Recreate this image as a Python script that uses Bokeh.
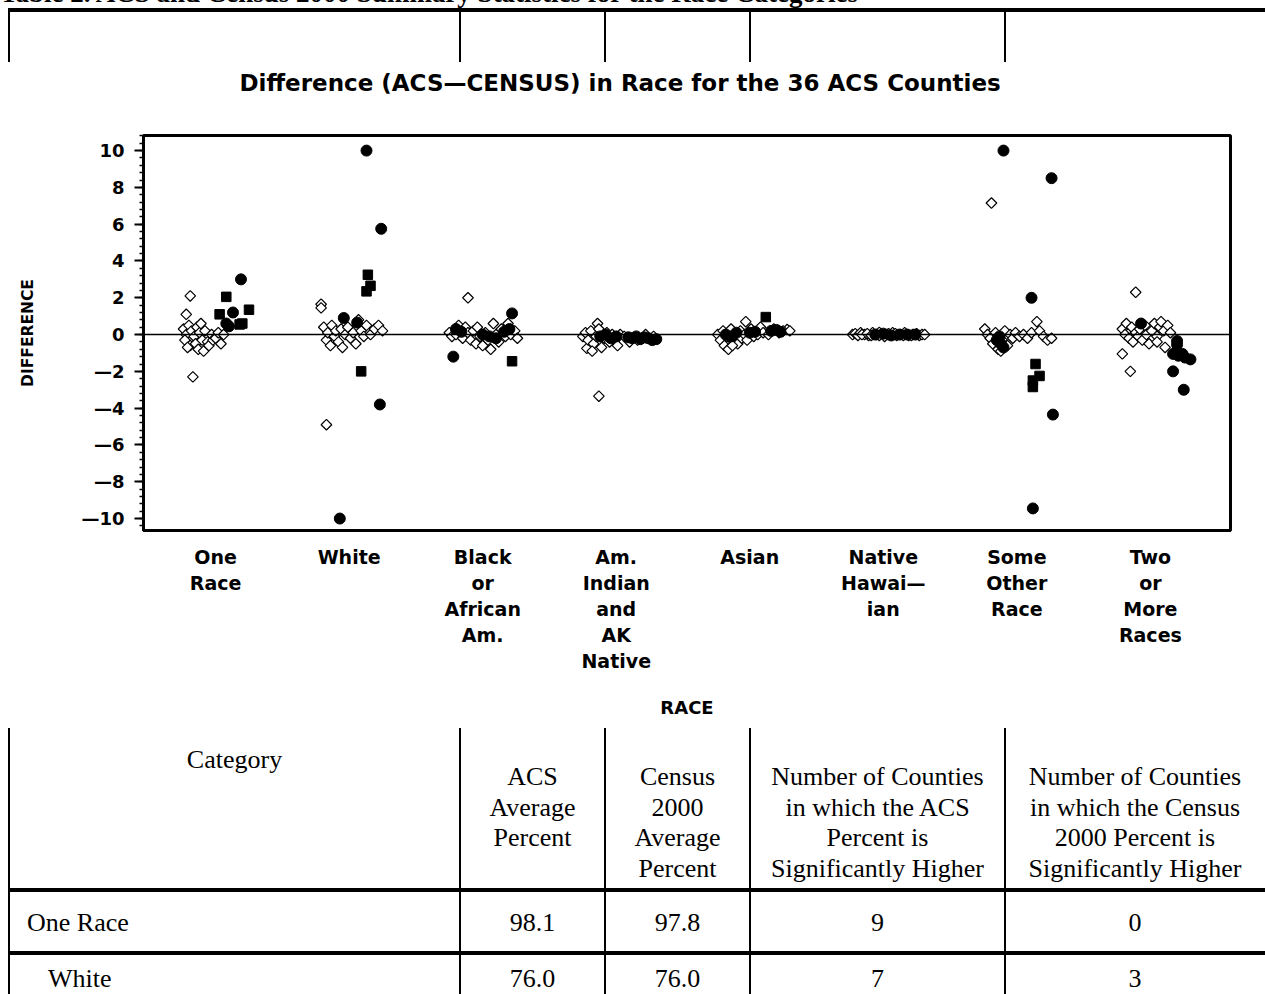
import math
from bokeh.plotting import figure
from bokeh.models import Range1d, Span, FixedTicker, SingleIntervalTicker, Div, Title
from bokeh.layouts import column
from bokeh.embed import file_html
from bokeh.resources import INLINE

# ---------------- data ----------------
categories = ["One\nRace", "White", "Black\nor\nAfrican\nAm.", "Am.\nIndian\nand\nAK\nNative",
              "Asian", "Native\nHawai\u2014\nian", "Some\nOther\nRace", "Two\nor\nMore\nRaces"]

# D = not significant (open diamond), C = filled circle, S = filled square
one_race_offset = [-0.19, -0.22, -0.17, -0.24, -0.22, -0.23, -0.20, -0.19, -0.18, -0.16, -0.15, -0.14,
                   -0.13, -0.12, -0.10, -0.09, -0.08, -0.06, -0.05, -0.03, -0.02, 0.00, 0.02, 0.04,
                   0.06, -0.21, -0.11, 0.19, 0.08, 0.03, 0.13, 0.25, 0.08, 0.18, 0.10, 0.20]
one_race_diff = [2.1, 1.1, -2.3, 0.3, 0.0, -0.3, 0.5, -0.6, 0.2, -0.1, -0.5, 0.4,
                 -0.8, 0.1, -0.3, -0.9, 0.2, -0.4, -0.6, 0.0, -0.3, -0.2, 0.1, -0.5,
                 0.0, -0.7, 0.6, 3.0, 2.05, 1.1, 1.2, 1.35, 0.6, 0.55, 0.45, 0.6]
one_race_symbol = "DDDDDDDDDDDDDDDDDDDDDDDDDDDCSSCSCSCS"

white_offset = [-0.21, -0.21, -0.17, -0.19, -0.17, -0.16, -0.14, -0.13, -0.11, -0.10, -0.08, -0.06,
                -0.05, -0.03, -0.01, 0.01, 0.03, 0.05, 0.07, 0.09, 0.11, 0.13, 0.16, 0.19,
                0.22, 0.25, 0.13, 0.24, 0.14, 0.16, 0.13, -0.04, 0.06, 0.09, 0.23, -0.07]
white_diff = [1.65, 1.45, -4.9, 0.4, -0.3, 0.1, -0.6, 0.5, -0.1, 0.2, -0.4, 0.3,
              -0.7, 0.0, 0.4, -0.2, 0.1, -0.5, 0.8, 0.2, -0.1, 0.5, 0.0, 0.3,
              0.5, 0.2, 10.0, 5.75, 3.25, 2.65, 2.35, 0.9, 0.65, -2.0, -3.8, -10.0]
white_symbol = "DDDDDDDDDDDDDDDDDDDDDDDDDDCCSSSCCSCC"

black_offset = [-0.11, -0.25, -0.23, -0.20, -0.18, -0.15, -0.13, -0.11, -0.09, -0.07, -0.05, -0.04,
                -0.02, 0.00, 0.02, 0.04, 0.06, 0.08, 0.10, 0.12, 0.14, 0.17, 0.19, 0.21,
                0.24, 0.26, 0.22, -0.22, 0.22, -0.20, -0.16, 0.00, 0.05, 0.10, 0.16, 0.20]
black_diff = [2.0, 0.1, -0.1, 0.0, 0.5, -0.2, 0.4, 0.1, -0.3, 0.2, -0.5, 0.4,
              -0.1, -0.6, 0.1, -0.3, -0.8, 0.6, 0.0, -0.4, 0.3, -0.1, 0.6, 0.0,
              0.2, -0.2, 1.15, -1.2, -1.45, 0.3, 0.15, 0.0, -0.1, -0.2, 0.15, 0.3]
black_symbol = "DDDDDDDDDDDDDDDDDDDDDDDDDDCCSCCCCCCC"

am_indian_offset = [-0.14, -0.13, -0.22, -0.25, -0.23, -0.21, -0.19, -0.17, -0.15, -0.13, -0.11, -0.09,
                    -0.07, -0.05, -0.03, -0.01, 0.01, 0.03, 0.06, 0.10, 0.16, 0.22, 0.28, -0.18,
                    0.09, 0.12, 0.15, 0.18, 0.21, 0.24, 0.27, 0.30, -0.12, -0.08, -0.04, 0.00]
am_indian_diff = [0.6, -3.35, -0.75, -0.1, 0.1, -0.3, 0.2, -0.5, -0.1, 0.3, -0.7, -0.2,
                  0.1, -0.4, 0.0, -0.3, -0.6, 0.0, -0.1, -0.4, -0.3, 0.0, -0.1, -0.9,
                  -0.15, -0.2, -0.1, -0.25, -0.15, -0.2, -0.3, -0.25, -0.1, 0.0, -0.2, -0.1]
am_indian_symbol = "DDDDDDDDDDDDDDDDDDDDDDDDCCCCCCCCCCCC"

asian_offset = [-0.03, 0.28, -0.24, -0.22, -0.20, -0.19, -0.17, -0.16, -0.14, -0.12, -0.11, -0.09,
                -0.07, -0.06, -0.04, -0.02, 0.01, 0.03, 0.06, 0.08, 0.10, 0.14, 0.18, 0.22,
                0.25, 0.30, -0.13, 0.12, 0.00, 0.04, 0.16, 0.20, 0.23, -0.18, -0.14, -0.10]
asian_diff = [0.7, 0.27, 0.0, -0.3, 0.2, -0.6, -0.1, -0.8, 0.3, -0.4, 0.0, -0.5,
              0.2, -0.2, 0.0, -0.3, 0.3, -0.1, 0.0, 0.4, 0.1, 0.0, 0.3, 0.1,
              0.2, 0.2, -0.6, 0.95, 0.1, 0.15, 0.2, 0.25, 0.15, 0.0, -0.1, 0.1]
asian_symbol = "DDDDDDDDDDDDDDDDDDDDDDDDDDDSCCCCCCCC"

hawaiian_offset = [-0.23, -0.21, -0.19, -0.17, -0.14, -0.11, -0.08, -0.05, -0.02, 0.01, 0.04, 0.07,
                   0.10, 0.13, 0.16, 0.19, 0.22, 0.25, 0.27, 0.29, 0.31, -0.03,
                   -0.16, -0.12, -0.09, -0.06, -0.03, 0.00, 0.03, 0.06, 0.09, 0.12, 0.15, 0.18,
                   0.21, 0.24]
hawaiian_diff = [0.0, 0.05, -0.05, 0.1, 0.0, -0.05, 0.1, 0.0, 0.05, -0.1, 0.05, 0.1,
                 -0.05, 0.0, 0.1, -0.05, 0.0, 0.05, -0.05, 0.0, 0.0, 0.12,
                 0.0, 0.05, -0.05, 0.0, -0.05, 0.05, 0.0, -0.05, 0.05, 0.0, -0.05, 0.0,
                 -0.05, 0.0]
hawaiian_symbol = "DDDDDDDDDDDDDDDDDDDDDDDDDCDCDCDCDCDC"

other_offset = [-0.19, 0.15, -0.24, -0.22, -0.20, -0.18, -0.16, -0.14, -0.11, -0.09, -0.07, -0.05,
                -0.03, -0.01, 0.02, 0.05, 0.08, 0.11, 0.17, 0.20, 0.23, 0.26, -0.12,
                -0.10, 0.26, 0.11, 0.14, 0.17, 0.12, 0.12, 0.27, 0.12, -0.15, -0.12, -0.10, -0.13]
other_diff = [7.15, 0.7, 0.3, 0.0, -0.2, -0.5, 0.1, -0.8, -0.3, 0.2, -0.6, 0.0,
              -0.2, 0.1, -0.1, 0.0, -0.2, 0.1, 0.2, -0.1, -0.3, -0.2, -0.9,
              10.0, 8.5, 2.0, -1.6, -2.25, -2.5, -2.85, -4.35, -9.45, -0.3, -0.5, -0.7, -0.1]
other_symbol = "DDDDDDDDDDDDDDDDDDDDDDDCCCSSSSCCCCCC"

two_more_offset = [-0.11, -0.21, -0.15, -0.21, -0.19, -0.18, -0.16, -0.14, -0.13, -0.11, -0.09, -0.08,
                   -0.06, -0.04, -0.03, -0.01, 0.01, 0.03, 0.05, 0.07, 0.08, 0.10, 0.11, 0.13,
                   0.15, 0.05, -0.07, 0.20, 0.20, 0.17, 0.21, 0.26, 0.30, 0.24, 0.17, 0.25]
two_more_diff = [2.3, -1.05, -2.0, 0.3, 0.0, 0.6, -0.2, 0.4, -0.4, 0.1, -0.1, 0.3,
                 -0.3, 0.5, 0.0, -0.5, 0.2, 0.6, -0.1, 0.4, 0.7, 0.2, -0.7, 0.5,
                 0.1, -0.4, 0.6, -0.35, -0.55, -1.05, -1.15, -1.25, -1.35, -1.05, -2.0, -3.0]
two_more_symbol = "DDDDDDDDDDDDDDDDDDDDDDDDDDCCCCCCCCCC"

y_tick_values = [-10, -8, -6, -4, -2, 0, 2, 4, 6, 8, 10]
y_tick_labels = ["\u201410", "\u20148", "\u20146", "\u20144", "\u20142", "0", "2", "4", "6", "8", "10"]

chart_title = "Difference (ACS\u2014CENSUS) in Race for the 36 ACS Counties"

# table
table_caption = "Table 2. ACS and Census 2000 Summary Statistics for the Race Categories"
table_header = [["Category"],
                ["ACS", "Average", "Percent"],
                ["Census", "2000", "Average", "Percent"],
                ["Number of Counties", "in which the ACS", "Percent is", "Significantly Higher"],
                ["Number of Counties", "in which the Census", "2000 Percent is", "Significantly Higher"]]
row_label = ["One Race", "White"]
acs_avg = ["98.1", "76.0"]
census_avg = ["97.8", "76.0"]
acs_higher = ["9", "7"]
census_higher = ["0", "3"]

# ---------------- layout constants (page pixels) ----------------
W = 1265
col_edges = [9, 460, 605, 750, 1005, 1265]
col_centers = [(col_edges[i] + col_edges[i + 1]) / 2 for i in range(5)]


def hline(x0, x1, y, t):
    return ('<div style="position:absolute;left:%dpx;top:%.1fpx;width:%dpx;height:%.1fpx;'
            'background:#000;"></div>' % (x0, y - t / 2, x1 - x0, t))


def vline(x, y0, y1, t):
    return ('<div style="position:absolute;left:%.1fpx;top:%dpx;width:%.1fpx;height:%dpx;'
            'background:#000;"></div>' % (x - t / 2, y0, t, y1 - y0))


def txt(x, y, s, align="center"):
    tx = "-50%" if align == "center" else "0"
    return ('<span style="position:absolute;left:%.1fpx;top:%.1fpx;white-space:nowrap;line-height:1;'
            'transform:translate(%s,-50%%);">%s</span>' % (x, y, tx, s))


def box(h, inner):
    return ('<div style="position:relative;width:%dpx;height:%dpx;overflow:hidden;margin:0;padding:0;'
            'font-family:\'Liberation Serif\';font-size:26px;color:#000;">%s</div>' % (W, h, inner))


# ---------------- top strip of table (page y 0..62) ----------------
top_parts = ['<span style="position:absolute;left:0px;top:-18px;white-space:nowrap;line-height:22px;'
             'font-size:27px;font-weight:bold;">%s</span>' % table_caption]
top_parts.append(hline(col_edges[0] - 1, col_edges[-1], 10, 3.5))
for x in col_edges[:-1]:
    top_parts.append(vline(x, 11, 62, 2))
top_div = Div(text=box(62, "".join(top_parts)), width=W, height=62,
              styles={"margin": "0", "padding": "0"})

# ---------------- chart (page y 62..728) ----------------
p = figure(width=W, height=666, x_range=Range1d(-0.54, 7.6), y_range=Range1d(-10.65, 10.82),
           output_backend="svg", toolbar_location=None, title=None,
           min_border_left=143, min_border_right=35, min_border_top=73, min_border_bottom=198)
p.grid.visible = False
p.outline_line_color = "black"
p.outline_line_width = 3

# spacer (closest to the frame), then the real title above it
p.add_layout(Title(text=" ", text_font_size="1px", standoff=33), "above")
p.add_layout(Title(text=chart_title, align="left", offset=96, standoff=8,
                   text_font="DejaVu Sans", text_font_style="bold", text_font_size="23px",
                   text_color="black"), "above")

p.add_layout(Span(location=0, dimension="width", line_color="black", line_width=1.5))

series = [(one_race_offset, one_race_diff, one_race_symbol),
          (white_offset, white_diff, white_symbol),
          (black_offset, black_diff, black_symbol),
          (am_indian_offset, am_indian_diff, am_indian_symbol),
          (asian_offset, asian_diff, asian_symbol),
          (hawaiian_offset, hawaiian_diff, hawaiian_symbol),
          (other_offset, other_diff, other_symbol),
          (two_more_offset, two_more_diff, two_more_symbol)]

groups = {"D": ([], []), "C": ([], []), "S": ([], [])}
for i, (offs, diffs, syms) in enumerate(series):
    for o, d, s in zip(offs, diffs, syms):
        groups[s][0].append(i + o)
        groups[s][1].append(d)

p.scatter(x=groups["D"][0], y=groups["D"][1], marker="square", angle=math.pi / 4, size=7.5,
          fill_color="white", line_color="black", line_width=1.2)
p.scatter(x=groups["C"][0], y=groups["C"][1], marker="circle", size=11,
          fill_color="black", line_color="black")
p.scatter(x=groups["S"][0], y=groups["S"][1], marker="square", size=9.5,
          fill_color="black", line_color="black")

yax = p.yaxis[0]
yax.ticker = SingleIntervalTicker(interval=2, num_minor_ticks=5)
yax.major_label_overrides = dict(zip(y_tick_values, y_tick_labels))
yax.axis_label = "DIFFERENCE"
yax.axis_label_text_font = "DejaVu Sans"
yax.axis_label_text_font_style = "bold"
yax.axis_label_text_font_size = "15.5px"
yax.axis_label_text_color = "black"
yax.axis_label_standoff = 41
yax.major_label_text_font = "DejaVu Sans"
yax.major_label_text_font_style = "bold"
yax.major_label_text_font_size = "18px"
yax.major_label_text_color = "black"
yax.major_label_standoff = 10
yax.major_tick_out = 9
yax.major_tick_in = 0
yax.minor_tick_out = 4
yax.minor_tick_in = 0
yax.major_tick_line_width = 2
yax.minor_tick_line_width = 1.5
yax.axis_line_width = 3

xax = p.xaxis[0]
xax.ticker = FixedTicker(ticks=list(range(len(categories))))
xax.major_label_overrides = {i: c for i, c in enumerate(categories)}
xax.major_label_text_font = "DejaVu Sans"
xax.major_label_text_font_style = "bold"
xax.major_label_text_font_size = "19px"
xax.major_label_text_color = "black"
xax.major_label_text_line_height = 1.19
xax.major_label_standoff = 15
xax.major_tick_out = 0
xax.major_tick_in = 0
xax.minor_tick_out = 0
xax.axis_line_width = 3
xax.axis_label = "RACE"
xax.axis_label_text_font = "DejaVu Sans"
xax.axis_label_text_font_style = "bold"
xax.axis_label_text_font_size = "18px"
xax.axis_label_text_color = "black"
xax.axis_label_standoff = 22

# ---------------- bottom part of table (page y 728..994) ----------------
Y0 = 728
bot_parts = []
for x in col_edges[:-1]:
    bot_parts.append(vline(x, 0, 266, 2))
for y in (890, 953):
    bot_parts.append(hline(col_edges[0] - 1, col_edges[-1], y - Y0, 3.5))
for c, lines in enumerate(table_header):
    y0 = 760 if c == 0 else 777
    for k, t in enumerate(lines):
        bot_parts.append(txt(col_centers[c], y0 + 30.7 * k - Y0, t))
row_y = [923, 979]
row_x = [27, 48]
for r in range(2):
    bot_parts.append(txt(row_x[r], row_y[r] - Y0, row_label[r], align="left"))
    for c, vals in zip(range(1, 5), [acs_avg, census_avg, acs_higher, census_higher]):
        bot_parts.append(txt(col_centers[c], row_y[r] - Y0, vals[r]))
bot_div = Div(text=box(266, "".join(bot_parts)), width=W, height=266,
              styles={"margin": "0", "padding": "0"})

layout = column(top_div, p, bot_div, spacing=0)
open("out.html", "w").write(file_html(layout, INLINE))
